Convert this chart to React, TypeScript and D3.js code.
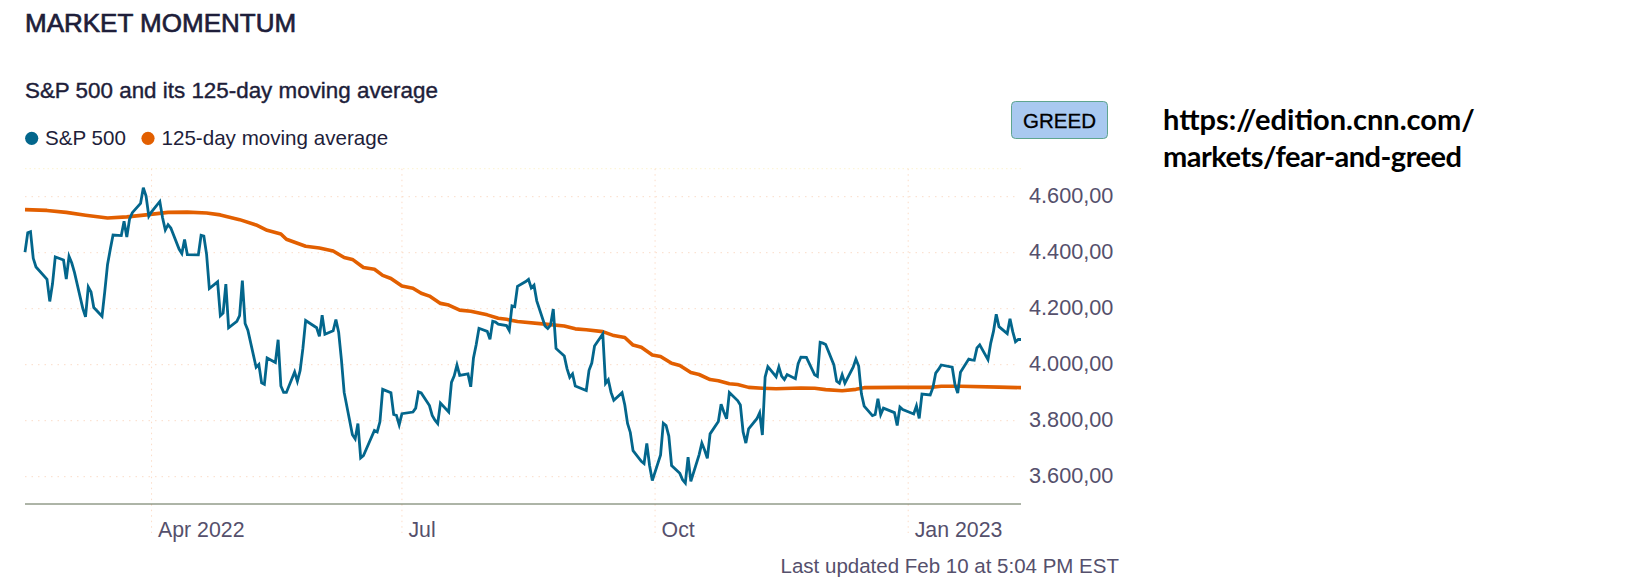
import * as d3 from "d3";

const holidays = ["2022-02-21", "2022-04-15", "2022-05-30", "2022-06-20", "2022-07-04", "2022-09-05", "2022-11-24", "2022-12-26", "2023-01-02", "2023-01-16"];

// closes, one per trading day from Feb 14 2022 on
const spValues = [
  4402, 4471, 4475, 4380, 4349, 4305, 4226, 4289, 4385, 4374, 4306, 4387, 4363, 4329, 4201, 4171, 4278, 4260, 4204, 4173,
  4262, 4358, 4412, 4463, 4461, 4512, 4456, 4520, 4543, 4576, 4632, 4602, 4530, 4546, 4583, 4525, 4481, 4500, 4488, 4413,
  4397, 4447, 4393, 4392, 4462, 4459, 4394, 4272, 4296, 4175, 4184, 4288, 4132, 4155, 4175, 4300, 4147, 4123, 3991, 4001,
  3935, 3930, 4024, 4008, 4089, 3924, 3901, 3901, 3974, 3941, 3979, 4058, 4158, 4132, 4101, 4177, 4109, 4121, 4161, 4116,
  4018, 3901, 3750, 3735, 3790, 3667, 3675, 3765, 3760, 3796, 3912, 3900, 3822, 3819, 3785, 3825, 3831, 3845, 3903, 3899,
  3854, 3819, 3802, 3790, 3863, 3831, 3937, 3960, 3999, 3962, 3967, 3921, 4024, 4072, 4130, 4119, 4091, 4155, 4152, 4145,
  4140, 4122, 4210, 4207, 4280, 4297, 4305, 4274, 4284, 4228, 4138, 4129, 4141, 4199, 4058, 4031, 3986, 3955, 3967, 3924,
  3908, 3980, 4006, 4067, 4110, 3933, 3946, 3901, 3873, 3900, 3856, 3790, 3758, 3693, 3655, 3647, 3719, 3640, 3586, 3678,
  3791, 3783, 3745, 3640, 3612, 3589, 3577, 3670, 3583, 3678, 3720, 3695, 3666, 3753, 3797, 3859, 3831, 3807, 3901, 3872,
  3856, 3760, 3720, 3771, 3807, 3828, 3749, 3956, 3993, 3957, 3992, 3959, 3947, 3965, 3950, 4004, 4027, 4026, 3964, 3958,
  4080, 4077, 4072, 3999, 3941, 3934, 3964, 3934, 3991, 4020, 3995, 3896, 3852, 3818, 3822, 3878, 3822, 3845, 3829, 3783,
  3849, 3840, 3824, 3853, 3808, 3895, 3892, 3919, 3970, 3983, 3999, 3991, 3929, 3899, 3973, 4020, 4017, 4016, 4060, 4071,
  4018, 4077, 4119, 4180, 4136, 4111, 4164, 4118, 4082, 4090, 4090,
];

const maDates = [
  "2022-02-14", "2022-02-22", "2022-03-01", "2022-03-08", "2022-03-16", "2022-03-23", "2022-03-30", "2022-04-07", "2022-04-14", "2022-04-21",
  "2022-04-26", "2022-05-03", "2022-05-09", "2022-05-13", "2022-05-18", "2022-05-20", "2022-05-27", "2022-06-01", "2022-06-06", "2022-06-10",
  "2022-06-13", "2022-06-17", "2022-06-21", "2022-06-24", "2022-06-27", "2022-07-01", "2022-07-05", "2022-07-08", "2022-07-11", "2022-07-15",
  "2022-07-18", "2022-07-22", "2022-07-26", "2022-08-01", "2022-08-05", "2022-08-08", "2022-08-12", "2022-08-22", "2022-08-29", "2022-09-02",
  "2022-09-06", "2022-09-12", "2022-09-16", "2022-09-20", "2022-09-23", "2022-09-26", "2022-09-30", "2022-10-03", "2022-10-07", "2022-10-10",
  "2022-10-14", "2022-10-17", "2022-10-21", "2022-10-24", "2022-10-28", "2022-10-31", "2022-11-04", "2022-11-09", "2022-11-14", "2022-11-23",
  "2022-11-28", "2022-12-02", "2022-12-08", "2022-12-13", "2022-12-16", "2022-12-28", "2023-01-09", "2023-01-13", "2023-01-20", "2023-02-03",
  "2023-02-11",
];
const maValues = [
  4554, 4551, 4544, 4534, 4524, 4528, 4535, 4544, 4545, 4542,
  4535, 4518, 4499, 4480, 4467, 4448, 4423, 4417, 4406, 4383,
  4376, 4347, 4341, 4319, 4308, 4281, 4273, 4255, 4245, 4219,
  4213, 4195, 4191, 4178, 4166, 4162, 4154, 4145, 4138, 4128,
  4125, 4118, 4104, 4097, 4070, 4062, 4035, 4029, 4005, 3997,
  3972, 3965, 3947, 3943, 3932, 3929, 3919, 3916, 3914, 3917,
  3916, 3911, 3907, 3912, 3918, 3919, 3919, 3923, 3923, 3920,
  3918,
];

const yTicks = [3600, 3800, 4000, 4200, 4400, 4600];
const xTickDates = ["2022-04-01", "2022-07-01", "2022-10-01", "2023-01-01"];
const xTickLabels = ["Apr 2022", "Jul", "Oct", "Jan 2023"];

const parse = d3.utcParse("%Y-%m-%d");
const fmtDay = d3.utcFormat("%Y-%m-%d");

// weekdays minus market holidays, plus the chart's closing point on Feb 11
const spDates = d3.utcDay
  .range(parse("2022-02-14")!, parse("2023-02-11")!)
  .filter((d) => d.getUTCDay() % 6 !== 0 && !holidays.includes(fmtDay(d)))
  .concat(parse("2023-02-11")!);

const labelFormat = d3.formatLocale({ decimal: ",", thousands: ".", grouping: [3], currency: ["", ""] }).format(",.2f");

const SANS = "'Liberation Sans', Arial, sans-serif";
const INK = "#1e1e3a";
const MUTED = "#55506c";
const SP_COLOR = "#03668c";
const MA_COLOR = "#e25f00";
const GRID = "#fbdcc8";

export default function App() {
  const x = d3.scaleUtc().domain([parse("2022-02-14")!, parse("2023-02-11")!]).range([25, 1021]);
  const y = d3.scaleLinear().domain([3600, 4600]).range([476.7, 196.7]);

  const line = d3
    .line<[Date, number]>()
    .x((d) => x(d[0]))
    .y((d) => y(d[1]));

  const spLine = line(spValues.map((v, i) => [spDates[i], v] as [Date, number])) ?? "";
  const maLine = line(maValues.map((v, i) => [parse(maDates[i])!, v] as [Date, number])) ?? "";

  return (
    <svg width={1629} height={585} style={{ position: "absolute", left: 0, top: 0, display: "block" }} fontFamily={SANS}>
      <rect width={1629} height={585} fill="#fff" />
      <text x={25} y={31.5} fontSize={26} fill={INK} stroke={INK} strokeWidth={0.7}>MARKET MOMENTUM</text>
      <text x={25} y={98} fontSize={22.4} fill={INK} stroke={INK} strokeWidth={0.4}>S&amp;P 500 and its 125-day moving average</text>

      <circle cx={31.7} cy={138.3} r={6.6} fill={SP_COLOR} />
      <text x={45} y={145} fontSize={20.6} fill={INK}>S&amp;P 500</text>
      <circle cx={148} cy={138.3} r={6.6} fill={MA_COLOR} />
      <text x={161.5} y={145} fontSize={20.6} fill={INK}>125-day moving average</text>

      <rect x={1011.5} y={101.5} width={96} height={37} rx={4} fill="#a9c9f0" stroke="#5fa58f" strokeWidth={1} />
      <text x={1059.5} y={127.5} fontSize={20.5} textAnchor="middle" fill="#000" stroke="#000" strokeWidth={0.3}>GREED</text>

      <g fontFamily="Lato, sans-serif" fontWeight={700} fontSize={29} fill="#000">
        <text x={1163} y={130}>https://edition.cnn.com/</text>
        <text x={1163} y={167} textLength={299} lengthAdjust="spacing">markets/fear-and-greed</text>
      </g>

      <line x1={25} x2={1021} y1={y(4700)} y2={y(4700)} stroke="#fdf3d0" strokeDasharray="1.5 3" />
      {yTicks.map((t) => (
        <g key={t}>
          <line x1={25} x2={1017} y1={y(t)} y2={y(t)} stroke={GRID} strokeDasharray="1.5 5" />
          <text x={1029} y={y(t) - 1.2} dy="0.36em" fontSize={21.7} fill={MUTED}>{labelFormat(t)}</text>
        </g>
      ))}
      {xTickDates.map((t, i) => (
        <g key={t}>
          <line x1={x(parse(t)!)} x2={x(parse(t)!)} y1={y(4700)} y2={533} stroke={GRID} strokeDasharray="1.5 4" />
          <text x={x(parse(t)!) + 6.5} y={536.5} fontSize={21.3} fill={MUTED}>{xTickLabels[i]}</text>
        </g>
      ))}
      <line x1={25} x2={1021} y1={504} y2={504} stroke="#5d6b50" strokeWidth={1} />

      <path d={maLine} fill="none" stroke={MA_COLOR} strokeWidth={3.6} strokeLinejoin="round" />
      <path d={spLine} fill="none" stroke={SP_COLOR} strokeWidth={2.8} strokeLinejoin="miter" />

      <text x={1119} y={572.7} textAnchor="end" fontSize={20.5} fill={MUTED}>Last updated Feb 10 at 5:04 PM EST</text>
    </svg>
  );
}
